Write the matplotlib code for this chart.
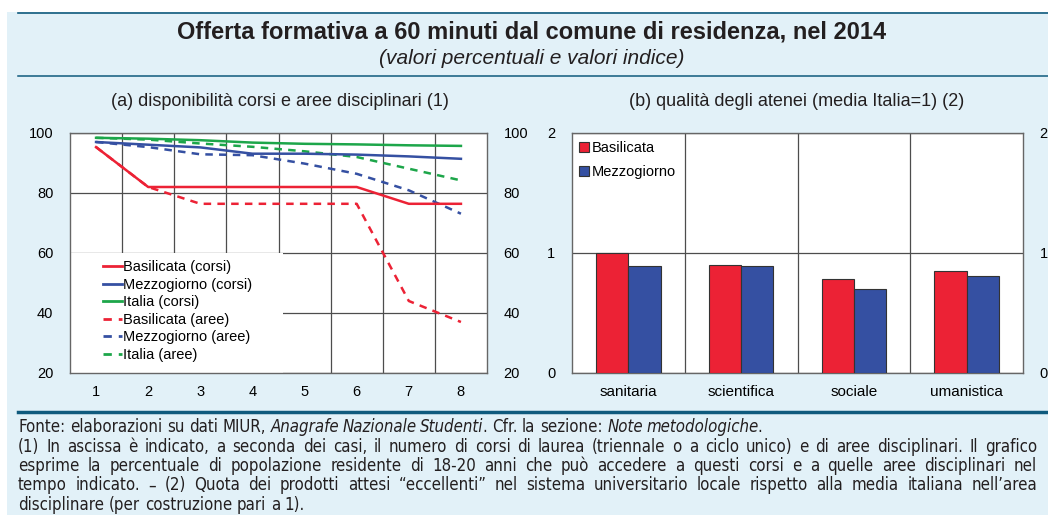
import numpy as np
import matplotlib
matplotlib.use('Agg')
import matplotlib.pyplot as plt
from matplotlib import font_manager
from matplotlib.font_manager import FontProperties
from matplotlib.patches import Rectangle, Patch
from matplotlib.lines import Line2D

# ---- data -------------------------------------------------------------
nItems = [1, 2, 3, 4, 5, 6, 7, 8]
basCorsi = [95.3, 82.0, 82.0, 82.0, 82.0, 82.0, 76.4, 76.4]
mezCorsi = [97.0, 96.1, 95.2, 93.1, 93.1, 92.8, 92.2, 91.4]
itaCorsi = [98.4, 98.1, 97.6, 96.8, 96.4, 96.2, 95.9, 95.7]
basAree = [95.3, 82.0, 76.4, 76.4, 76.4, 76.4, 44.0, 37.0]
mezAree = [97.0, 95.3, 92.9, 92.6, 89.8, 86.4, 80.9, 73.1]
itaAree = [98.4, 97.8, 96.5, 95.4, 93.9, 92.0, 88.1, 84.2]

areas = ['sanitaria', 'scientifica', 'sociale', 'umanistica']
basQual = [1.00, 0.90, 0.78, 0.85]
mezQual = [0.89, 0.89, 0.70, 0.81]

# notes: *...* marks italic runs; flag says whether the line is justified
noteLines = [
    ('Fonte: elaborazioni su dati MIUR, *Anagrafe Nazionale Studenti*. Cfr. la sezione: '
     '*Note metodologiche*.', False),
    ('(1) In ascissa è indicato, a seconda dei casi, il numero di corsi di laurea (triennale o a '
     'ciclo unico) e di aree disciplinari. Il grafico', True),
    ('esprime la percentuale di popolazione residente di 18-20 anni che può accedere a questi '
     'corsi e a quelle aree disciplinari nel', True),
    ('tempo indicato. – (2) Quota dei prodotti attesi “eccellenti” nel sistema universitario '
     'locale rispetto alla media italiana nell’area', True),
    ('disciplinare (per costruzione pari a 1).', False),
]

# ---- style ------------------------------------------------------------
installed = {f.name for f in font_manager.fontManager.ttflist}
mainFont = 'Liberation Sans' if 'Liberation Sans' in installed else 'DejaVu Sans'
plt.rcParams['font.family'] = [mainFont, 'DejaVu Sans']

# look for a narrow face for the notes (the original uses a condensed sans)
narrowReg, narrowIt = None, None
for f in font_manager.fontManager.ttflist:
    isNarrow = ('Narrow' in f.name) or (f.stretch in ('condensed', 'semi-condensed') and
                                        'Sans' in f.name and 'Mono' not in f.name)
    if not isNarrow or f.weight not in ('normal', 400, 'regular', 'book'):
        continue
    if f.style == 'normal' and narrowReg is None:
        narrowReg = f.fname
    elif f.style in ('italic', 'oblique') and narrowIt is None:
        narrowIt = f.fname
if narrowReg:
    fpReg = FontProperties(fname=narrowReg)
    fpIt = FontProperties(fname=narrowIt) if narrowIt else FontProperties(fname=narrowReg, style='italic')
else:
    fpReg = FontProperties(family=mainFont)
    fpIt = FontProperties(family=mainFont, style='italic')

bgBlue = '#e2f1f8'
rule = '#0f5a7d'
red = '#ec2235'
blue = '#3550a2'
green = '#1da64a'
gridCol = '#4d4d4d'
textCol = '#231f20'

fig = plt.figure(figsize=(10.48, 5.15), dpi=100)
W, H = 1048.0, 515.0

# background panel and rules
fig.patches.append(Rectangle((7 / W, 0), 1 - 7 / W, (H - 12) / H, transform=fig.transFigure,
                             facecolor=bgBlue, edgecolor='none', zorder=-10))
for yPix, lw in [(13, 1.2), (75.5, 1.1), (411.5, 2.5)]:
    fig.add_artist(Line2D([18 / W, 1], [1 - yPix / H] * 2, transform=fig.transFigure,
                          color=rule, lw=lw))

fig.text(532 / W, 1 - 32 / H, 'Offerta formativa a 60 minuti dal comune di residenza, nel 2014',
         ha='center', va='center', fontsize=17, fontweight='bold', color=textCol)
fig.text(532 / W, 1 - 58 / H, '(valori percentuali e valori indice)',
         ha='center', va='center', fontsize=15, style='italic', color=textCol)

# ---- panel (a): line chart ---------------------------------------------
axL = fig.add_axes([70 / W, 1 - 373 / H, 417 / W, 240 / H])
axL.set_facecolor('white')
axL.set_xlim(0.5, 8.5)
axL.set_ylim(20, 100)
axL.set_xticks(nItems)
axL.set_xticks(np.arange(1.5, 8, 1), minor=True)
axL.set_yticks([20, 40, 60, 80, 100])
axL.tick_params(axis='x', which='major', length=0, pad=9, labelsize=10.5)
axL.tick_params(axis='x', which='minor', direction='in', length=4, color=gridCol)
axL.tick_params(axis='y', length=0, labelsize=10.5, pad=12, labelright=True)
axL.grid(axis='x', which='minor', color=gridCol, lw=0.9)
axL.grid(axis='y', which='major', color=gridCol, lw=0.9)
for s in axL.spines.values():
    s.set_color('#666666')
    s.set_linewidth(1.0)

# white area behind the legend
axL.add_patch(Rectangle((0.5, 20), 4.08, 40, facecolor='white', edgecolor='none', zorder=2))

series = [
    (basCorsi, red, '-', 'Basilicata (corsi)'),
    (mezCorsi, blue, '-', 'Mezzogiorno (corsi)'),
    (itaCorsi, green, '-', 'Italia (corsi)'),
    (basAree, red, (0, (3, 2.5)), 'Basilicata (aree)'),
    (mezAree, blue, (0, (3, 2.5)), 'Mezzogiorno (aree)'),
    (itaAree, green, (0, (3, 2.5)), 'Italia (aree)'),
]
order = [3, 4, 5, 0, 1, 2]
for i in order:
    vals, col, ls, lab = series[i]
    axL.plot(nItems, vals, color=col, ls=ls, lw=1.8, zorder=3)

handles = [Line2D([], [], color=c, ls=ls, lw=2) for _, c, ls, _ in series]
labels = [lab for *_, lab in series]
axL.legend(handles, labels, loc='upper left', bbox_to_anchor=(0.079, 0.47), frameon=False,
           fontsize=10.5, handlelength=1.3, handletextpad=0.1, labelspacing=0.24,
           borderaxespad=0, borderpad=0)

fig.text(280 / W, 1 - 101 / H, '(a) disponibilità corsi e aree disciplinari (1)',
         ha='center', va='center', fontsize=13, color=textCol)

# ---- panel (b): bar chart ----------------------------------------------
axR = fig.add_axes([572 / W, 1 - 373 / H, 451 / W, 240 / H])
axR.set_facecolor('white')
xPos = np.arange(len(areas))
barW = 0.285
axR.bar(xPos - barW / 2, basQual, barW, color=red, edgecolor='#333333', lw=0.8, zorder=3)
axR.bar(xPos + barW / 2, mezQual, barW, color=blue, edgecolor='#333333', lw=0.8, zorder=3)
axR.set_xlim(-0.5, len(areas) - 0.5)
axR.set_ylim(0, 2)
axR.set_xticks(xPos)
axR.set_xticklabels(areas)
axR.set_xticks(np.arange(0.5, len(areas) - 1, 1), minor=True)
axR.set_yticks([0, 1, 2])
axR.tick_params(axis='x', which='both', length=0, pad=9, labelsize=11)
axR.tick_params(axis='y', length=0, labelsize=10.5, pad=12, labelright=True)
axR.grid(axis='x', which='minor', color=gridCol, lw=0.9)
axR.grid(axis='y', which='major', color=gridCol, lw=0.9)
axR.set_axisbelow(True)
for s in axR.spines.values():
    s.set_color('#666666')
    s.set_linewidth(1.0)

barHandles = [Patch(facecolor=red, edgecolor='#333333', lw=0.8),
              Patch(facecolor=blue, edgecolor='#333333', lw=0.8)]
axR.legend(barHandles, ['Basilicata', 'Mezzogiorno'], loc='upper left',
           bbox_to_anchor=(0.015, 0.965), frameon=False, fontsize=10.5,
           handlelength=0.7, handleheight=0.7, handletextpad=0.2, labelspacing=0.65,
           borderaxespad=0, borderpad=0)

fig.text(797 / W, 1 - 101 / H, '(b) qualità degli atenei (media Italia=1) (2)',
         ha='center', va='center', fontsize=13, color=textCol)

# ---- notes -------------------------------------------------------------
noteX0, noteX1 = 18, 1037
noteY = [427, 446.5, 466, 485.5, 505]
renderer = fig.canvas.get_renderer()


def word_runs(word, italic):
    # split a word on '*' toggles -> list of (text, italic)
    runs = []
    for k, piece in enumerate(word.split('*')):
        if k > 0:
            italic = not italic
        if piece:
            runs.append((piece, italic))
    return runs, italic


def draw_line(txt, yPix, size, justify):
    artists = []
    words = []
    italic = False
    for w in txt.split(' '):
        runs, italic = word_runs(w, italic)
        items = []
        for piece, it in runs:
            fp = (fpIt if it else fpReg).copy()
            fp.set_size(size)
            a = fig.text(0, 1 - yPix / H, piece, fontproperties=fp, ha='left', va='center',
                         color=textCol)
            wd = a.get_window_extent(renderer).width
            if it:
                wd -= 0.12 * size  # slanted glyph overhang
            items.append((a, wd))
            artists.append(a)
        words.append(items)
    fp = fpReg.copy()
    fp.set_size(size)
    t1 = fig.text(0, 0, 'x x', fontproperties=fp)
    t2 = fig.text(0, 0, 'xx', fontproperties=fp)
    space = t1.get_window_extent(renderer).width - t2.get_window_extent(renderer).width
    t1.remove()
    t2.remove()
    total = sum(wd for items in words for _, wd in items)
    gap = (noteX1 - noteX0 - total) / (len(words) - 1) if justify else space
    x = noteX0
    for items in words:
        for a, wd in items:
            a.set_x(x / W)
            x += wd
        x += gap
    return artists, x - gap - noteX0


# pick the size so that the (unjustified) first line spans like the original
trial, width = draw_line(noteLines[0][0], noteY[0], 12, False)
for a in trial:
    a.remove()
noteSize = 12 * 742.0 / width

for (txt, just), yPix in zip(noteLines, noteY):
    draw_line(txt, yPix, noteSize, just)

fig.savefig('out.png', dpi=100)
